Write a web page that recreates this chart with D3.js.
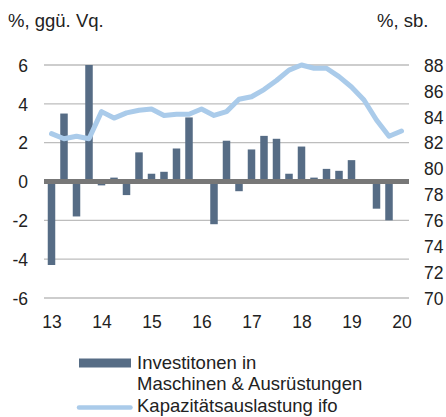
<!DOCTYPE html>
<html><head><meta charset="utf-8">
<script src="https://cdn.jsdelivr.net/npm/d3@7"></script>
<style>body{margin:0;background:#fff}svg{display:block}text{font-family:"Liberation Sans",Arial,sans-serif;fill:#222}</style>
</head><body>
<svg id="c" width="446" height="417"></svg>
<script>
const quarters = d3.range(29).map(i => 13 + i * 0.25);
const invest = [-4.3,3.5,-1.8,6.0, -0.2,0.2,-0.7,1.5, 0.4,0.5,1.7,3.3, 0.0,-2.2,2.1,-0.5, 1.65,2.35,2.2,0.4, 1.8,0.2,0.65,0.55, 1.1,0.0,-1.4,-2.0];
const capacity = [82.7,82.3,82.5,82.3, 84.4,83.9,84.3,84.5, 84.6,84.1,84.2,84.2, 84.6,84.1,84.4,85.35, 85.55,86.1,86.8,87.6, 88.0,87.75,87.75,87.1, 86.3,85.3,83.75,82.5, 82.9];
const leftTicks = [-6,-4,-2,0,2,4,6];
const rightTicks = [70,72,74,76,78,80,82,84,86,88];
const xTicks = [13,14,15,16,17,18,19,20];
const legendLabels = [["Investitonen in","Maschinen & Ausrüstungen"],["Kapazitätsauslastung ifo"]];

const svg = d3.select("#c");
const x = d3.scaleLinear().domain([13,20]).range([51.5,401.5]);
const yL = d3.scaleLinear().domain([-6,6]).range([298,65]);
const yR = d3.scaleLinear().domain([70,88]).range([298,65]);
const x0 = 44, x1 = 409;
const fmt = d => String(d);

// gridlines
svg.append("g").selectAll("line").data(leftTicks.filter(d=>d!==0)).join("line")
  .attr("x1",x0).attr("x2",x1).attr("y1",d=>yL(d)).attr("y2",d=>yL(d))
  .attr("stroke","#bdbdbd").attr("stroke-width",1.3);

function styleAxis(g, dy){
  g.select(".domain").remove();
  g.selectAll("text").attr("font-size",17.5).attr("dy",dy)
   .style("font-family","Liberation Sans, Arial, sans-serif").attr("fill","#222");
}
// left axis
const gL = svg.append("g").attr("transform","translate(28,0)")
  .call(d3.axisLeft(yL).tickValues(leftTicks).tickSize(0).tickPadding(0).tickFormat(fmt));
styleAxis(gL,"0.36em");

// right axis
const gR = svg.append("g").attr("transform","translate(424,0)")
  .call(d3.axisRight(yR).tickValues(rightTicks).tickSize(0).tickPadding(0).tickFormat(fmt));
styleAxis(gR,"0.36em");

// x axis
const gX = svg.append("g").attr("transform","translate(0,314)")
  .call(d3.axisBottom(x).tickValues(xTicks).tickSize(0).tickPadding(0).tickFormat(fmt));
styleAxis(gX,"0.78em");

// bars
const bw = 7.5;
svg.append("g").selectAll("rect").data(invest).join("rect")
  .attr("x",(d,i)=>x(quarters[i])-bw/2).attr("width",bw)
  .attr("y",d=>yL(Math.max(0,d))).attr("height",d=>Math.abs(yL(d)-yL(0)))
  .attr("fill","#566c85");

// zero line
svg.append("line").attr("x1",x0).attr("x2",x1).attr("y1",yL(0)).attr("y2",yL(0))
  .attr("stroke","#777").attr("stroke-width",5);

// capacity line
svg.append("path").datum(capacity)
  .attr("d",d3.line().x((d,i)=>x(quarters[i])).y(d=>yR(d)))
  .attr("fill","none").attr("stroke","#aacbea").attr("stroke-width",5)
  .attr("stroke-linejoin","round").attr("stroke-linecap","round");

// titles
svg.append("text").attr("x",8).attr("y",27).attr("font-size",18.5).text("%, ggü. Vq.");
svg.append("text").attr("x",377).attr("y",27).attr("font-size",18.5).text("%, sb.");

// legend
svg.append("rect").attr("x",79).attr("y",358.5).attr("width",52).attr("height",9).attr("fill","#566c85");
const lt = svg.append("text").attr("x",137).attr("y",368.5).attr("font-size",18.5);
lt.append("tspan").attr("x",137).text(legendLabels[0][0]);
lt.append("tspan").attr("x",137).attr("dy",21.3).text(legendLabels[0][1]);
svg.append("line").attr("x1",79).attr("x2",130.5).attr("y1",407.5).attr("y2",407.5)
  .attr("stroke","#aacbea").attr("stroke-width",4.5).attr("stroke-linecap","round");
svg.append("text").attr("x",137).attr("y",411.5).attr("font-size",18.5).text(legendLabels[1][0]);
</script>
</body></html>
